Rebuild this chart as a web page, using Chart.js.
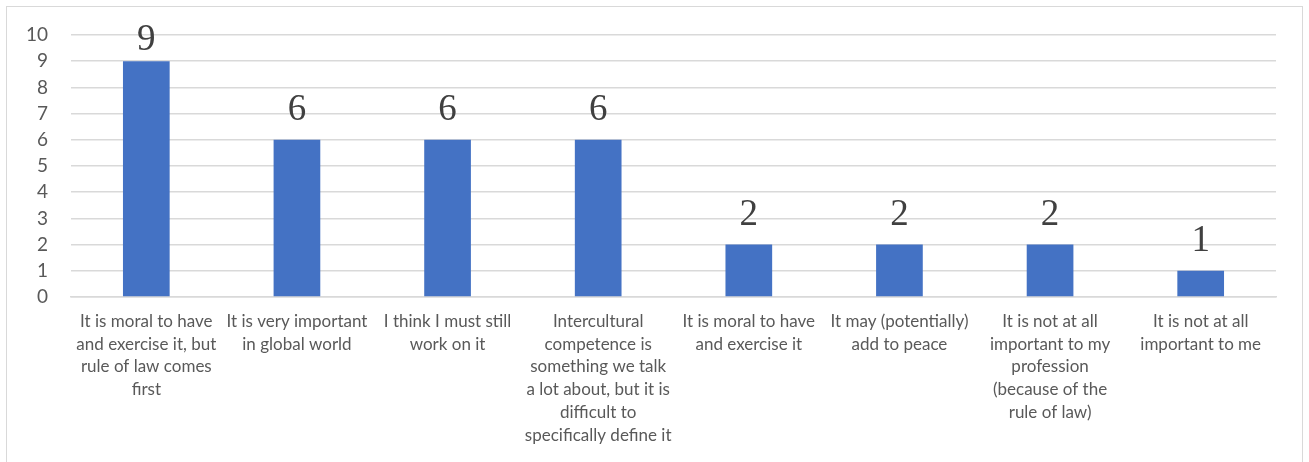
<!DOCTYPE html>
<html>
<head>
<meta charset="utf-8">
<script src="https://cdn.jsdelivr.net/npm/chart.js@4"></script>
<style>
  html, body { margin: 0; padding: 0; background: #fff; }
  #frame {
    position: absolute; left: 6px; top: 6px;
    width: 1297px; height: 480px;
    border: 1.5px solid #d9d9d9; box-sizing: border-box;
  }
  #wrap { position: absolute; left: 0; top: 0; width: 1309px; height: 462px; }
</style>
</head>
<body>
<div id="frame"></div>
<div id="wrap"><canvas id="chart" width="1309" height="462"></canvas></div>
<script>
// Data
const categories = [
  ['It is moral to have', 'and exercise it, but', 'rule of law comes', 'first'],
  ['It is very important', 'in global world'],
  ['I think I must still', 'work on it'],
  ['Intercultural', 'competence is', 'something we talk', 'a lot about, but it is', 'difficult to', 'specifically define it'],
  ['It is moral to have', 'and exercise it'],
  ['It may (potentially)', 'add to peace'],
  ['It is not at all', 'important to my', 'profession', '(because of the', 'rule of law)'],
  ['It is not at all', 'important to me']
]
const counts = [9, 6, 6, 6, 2, 2, 2, 1]
const yTicks = [0, 1, 2, 3, 4, 5, 6, 7, 8, 9, 10]

// Value labels above the bars, kept inside the plot top
const valueLabels = {
  id: 'valueLabels',
  afterDatasetsDraw(chart) {
    const ctx = chart.ctx
    const meta = chart.getDatasetMeta(0)
    ctx.save()
    ctx.font = '37px "Liberation Serif"'
    ctx.fillStyle = '#404040'
    ctx.textAlign = 'center'
    ctx.textBaseline = 'alphabetic'
    meta.data.forEach((bar, i) => {
      const y = Math.max(bar.y - 20, chart.chartArea.top + 15)
      ctx.fillText(String(counts[i]), bar.x, y)
    })
    ctx.restore()
  }
}

new Chart(document.getElementById('chart'), {
  type: 'bar',
  data: {
    labels: categories,
    datasets: [{
      data: counts,
      backgroundColor: '#4472c4',
      borderWidth: 0,
      barPercentage: 0.62,
      categoryPercentage: 0.5
    }]
  },
  options: {
    responsive: false,
    animation: false,
    layout: { padding: { left: 0, top: 35, right: 33, bottom: 0 } },
    plugins: {
      legend: { display: false },
      tooltip: { enabled: false }
    },
    scales: {
      x: {
        grid: { display: false, drawTicks: false },
        border: { color: '#d9d9d9', width: 1.5 },
        ticks: {
          color: '#595959',
          font: { family: 'Lato', size: 17, lineHeight: 1.34 },
          padding: 13,
          maxRotation: 0,
          autoSkip: false
        },
        afterFit(scale) { scale.height = 165 }
      },
      y: {
        min: 0,
        max: 10,
        afterBuildTicks(scale) { scale.ticks = yTicks.map(v => ({ value: v })) },
        grid: { color: '#d9d9d9', lineWidth: 1.5, drawTicks: false },
        border: { display: false },
        ticks: {
          color: '#595959',
          font: { family: 'Lato', size: 19 },
          padding: 23
        },
        afterFit(scale) { scale.width = 71 }
      }
    }
  },
  plugins: [valueLabels]
})
</script>
</body>
</html>
